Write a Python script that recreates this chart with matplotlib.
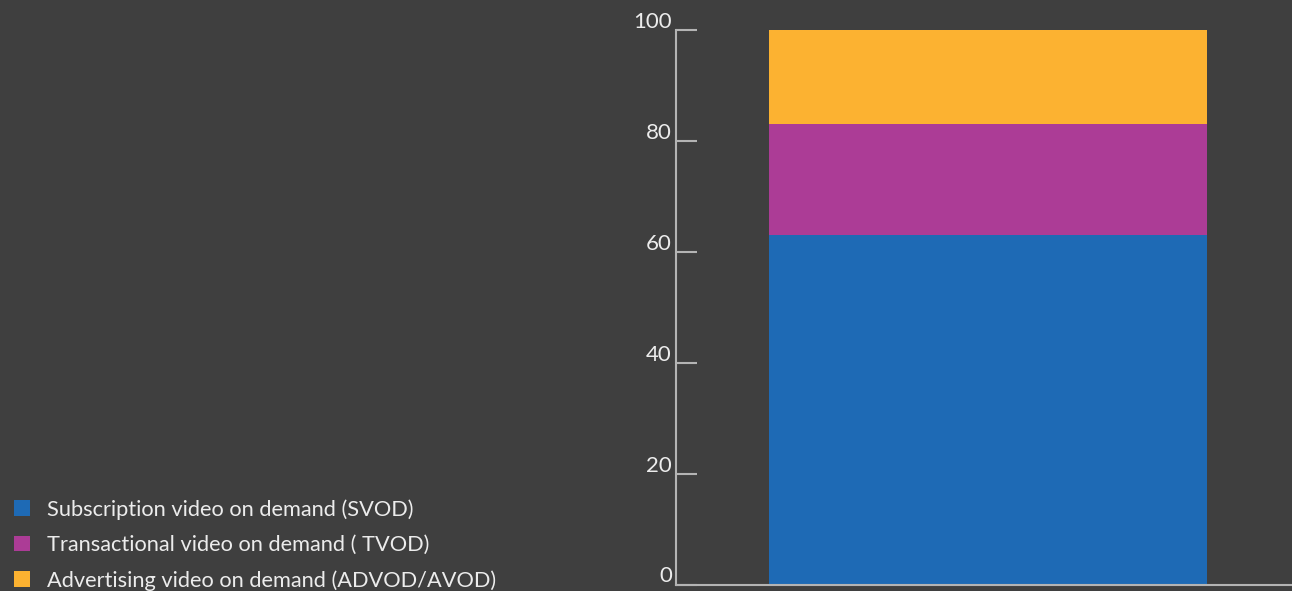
"""
Stacked share of video-on-demand revenue by model, dark theme.
"""

import matplotlib

matplotlib.use("Agg")
import matplotlib.pyplot as plt
import matplotlib.transforms as mtransforms
from matplotlib.patches import Patch

# data
categories = ["Subscription video on demand (SVOD)",
              "Transactional video on demand ( TVOD)",
              "Advertising video on demand (ADVOD/AVOD)"]
shares = [63, 20, 17]
colors = ["#1e6ab5", "#ac3c96", "#fcb231"]
yticks = [0, 20, 40, 60, 80, 100]

BG = "#3f3f3f"
FG = "#ececec"
SPINE = "#b4b4b4"

plt.rcParams["font.family"] = ["Lato", "DejaVu Sans"]

fig = plt.figure(figsize=(12.92, 5.91), dpi=100, facecolor=BG)
ax = fig.add_axes([676 / 1292, 1 - 584.5 / 591, 616 / 1292, (584.5 - 30) / 591])
ax.set_facecolor(BG)

bottom = 0
handles = []
for name, val, col in zip(categories, shares, colors):
    ax.bar(0, val, width=0.711, bottom=bottom, color=col, linewidth=0)
    bottom += val
    handles.append(Patch(facecolor=col, edgecolor="none", label=name))

ax.set_xlim(-0.5065, 0.4935)
ax.set_ylim(0, 100)
ax.set_xticks([])
ax.set_yticks(yticks)
ax.set_yticklabels([str(t) for t in yticks], fontsize=16, color=FG,
                   va="baseline")
ax.tick_params(axis="y", direction="in", length=15, width=1.5, color=SPINE, pad=3)
# labels sit just above their tick
lift = mtransforms.ScaledTranslation(0, 1.5 / 72, fig.dpi_scale_trans)
for lbl in ax.get_yticklabels():
    lbl.set_transform(lbl.get_transform() + lift)
for side in ["top", "right"]:
    ax.spines[side].set_visible(False)
for side in ["left", "bottom"]:
    ax.spines[side].set_color(SPINE)
    ax.spines[side].set_linewidth(1.5)

# legend in the lower-left corner of the figure
leg = fig.legend(handles=handles, loc="center left",
                 bbox_to_anchor=(14 / 1292, 1 - 545 / 591), frameon=False,
                 borderpad=0, borderaxespad=0,
                 handlelength=0.72, handleheight=0.72, handletextpad=0.8,
                 labelspacing=0.7, prop={"size": 15.7})
for t in leg.get_texts():
    t.set_color(FG)

fig.savefig("out.png", dpi=100, facecolor=BG)
